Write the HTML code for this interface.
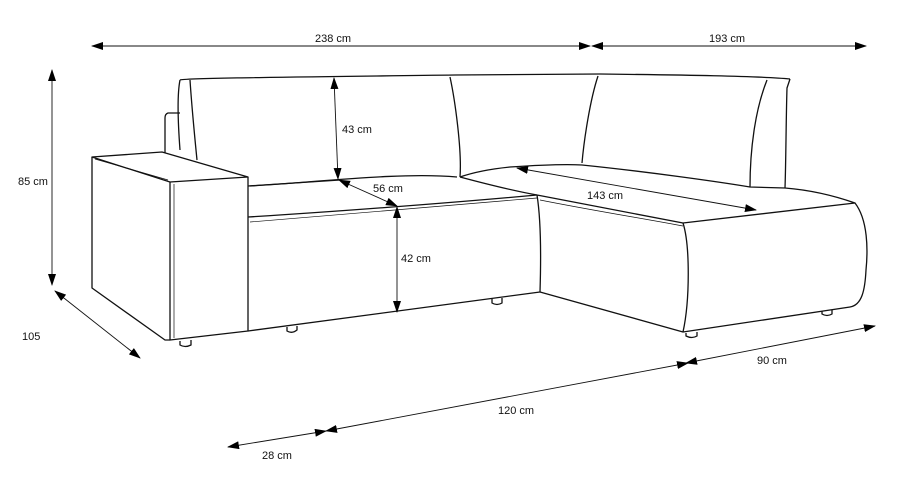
<!DOCTYPE html>
<html><head><style>
html,body{margin:0;padding:0;background:#fff;}
svg{display:block;}
text{font-family:"Liberation Sans",sans-serif;font-size:11px;fill:#111;}
</style></head><body>
<svg width="906" height="481" viewBox="0 0 906 481" xmlns="http://www.w3.org/2000/svg">
<defs>
<marker id="a" markerWidth="12" markerHeight="8" refX="11" refY="4" orient="auto-start-reverse" markerUnits="userSpaceOnUse">
<path d="M0,0 L12,4 L0,8 Z" fill="#000"/></marker>
</defs>
<g fill="none" stroke="#111" stroke-width="1.3" stroke-linejoin="round">
<!-- back frame -->
<path d="M180,80 C185,78 300,77 455,75 L600,74 C680,75 760,76 790,79"/>
<path d="M180,80 C178,90 177,110 180,150"/>
<path d="M180,113 L168,113 Q165,114 165,118 L165,153"/>
<path d="M790,79 L787,88 C786,120 786,160 785,188"/>
<!-- left back cushion -->
<path d="M190,80 C192,110 195,140 197,160"/>
<path d="M450,77 C455,100 462,150 460,177"/>
<path d="M250,186 C320,182 400,172 457,177"/>
<!-- right back cushion -->
<path d="M598,76 C590,100 584,140 582,163"/>
<path d="M767,80 C755,110 750,150 750,187"/>
<path d="M582,165 C650,172 720,182 750,187 L785,188"/>
<!-- left arm -->
<path d="M92,157 L162,152 L248,177 L170,182 Z"/>
<path d="M95,159 L168,180" stroke-width="0.8"/>
<path d="M170,182 L170,340 L248,331 L248,177"/>
<path d="M174,184 L174,338" stroke-width="0.7"/>
<path d="M92,157 L92,288 L165,340 L170,340"/>
<!-- seat -->
<path d="M248,186 L340,180"/>
<path d="M248,217 C330,212 450,203 537,195"/>
<path d="M250,222 C340,215 450,205 537,198" stroke-width="0.7"/>
<path d="M248,331 L540,292"/>
<path d="M537,195 C541,220 541,260 540,292"/>
<path d="M460,177 C490,185 520,192 537,195"/>
<!-- chaise -->
<path d="M460,177 C480,170 500,168 510,167 C540,165 565,164 582,165"/>
<path d="M537,195 C590,205 640,215 683,223 L855,203 C835,196 810,190 785,188"/>
<path d="M540,200 C590,210 640,218 683,226" stroke-width="0.7"/>
<path d="M855,203 C868,220 868,250 866,270 C865,290 862,305 850,307 L683,332 L540,292"/>
<path d="M683,223 C690,245 690,300 683,332"/>
<!-- feet -->
<path d="M287,327 L287,331 Q292,334 297,330 L297,326"/>
<path d="M180,341 L180,345 Q185,348 191,345 L191,340"/>
<path d="M492,299 L492,303 Q497,306 502,303 L502,298"/>
<path d="M686,333 L686,336 Q692,339 697,336 L697,332"/>
<path d="M822,311 L822,314 Q827,317 832,314 L832,310"/>
</g>
<g stroke="#111" stroke-width="0.9" fill="none">
<line x1="92" y1="46" x2="590" y2="46" marker-start="url(#a)" marker-end="url(#a)"/>
<line x1="592" y1="46" x2="866" y2="46" marker-start="url(#a)" marker-end="url(#a)"/>
<line x1="52" y1="70" x2="52" y2="285" marker-start="url(#a)" marker-end="url(#a)"/>
<line x1="55" y1="291" x2="140" y2="358" marker-start="url(#a)" marker-end="url(#a)"/>
<line x1="228" y1="447" x2="326" y2="431" marker-start="url(#a)" marker-end="url(#a)"/>
<line x1="326" y1="431" x2="688" y2="363" marker-start="url(#a)" marker-end="url(#a)"/>
<line x1="686" y1="363" x2="875" y2="326" marker-start="url(#a)" marker-end="url(#a)"/>
<line x1="334" y1="78" x2="338" y2="179" marker-start="url(#a)" marker-end="url(#a)"/>
<line x1="339" y1="180" x2="397" y2="206" marker-start="url(#a)" marker-end="url(#a)"/>
<line x1="397" y1="207" x2="397" y2="312" marker-start="url(#a)" marker-end="url(#a)"/>
<line x1="517" y1="168" x2="756" y2="210" marker-start="url(#a)" marker-end="url(#a)"/>
</g>
<text x="315" y="42">238 cm</text>
<text x="709" y="42">193 cm</text>
<text x="18" y="185">85 cm</text>
<text x="22" y="340">105</text>
<text x="262" y="459">28 cm</text>
<text x="498" y="414">120 cm</text>
<text x="757" y="364">90 cm</text>
<text x="342" y="133">43 cm</text>
<text x="373" y="192">56 cm</text>
<text x="401" y="262">42 cm</text>
<text x="587" y="199">143 cm</text>
</svg>
</body></html>
